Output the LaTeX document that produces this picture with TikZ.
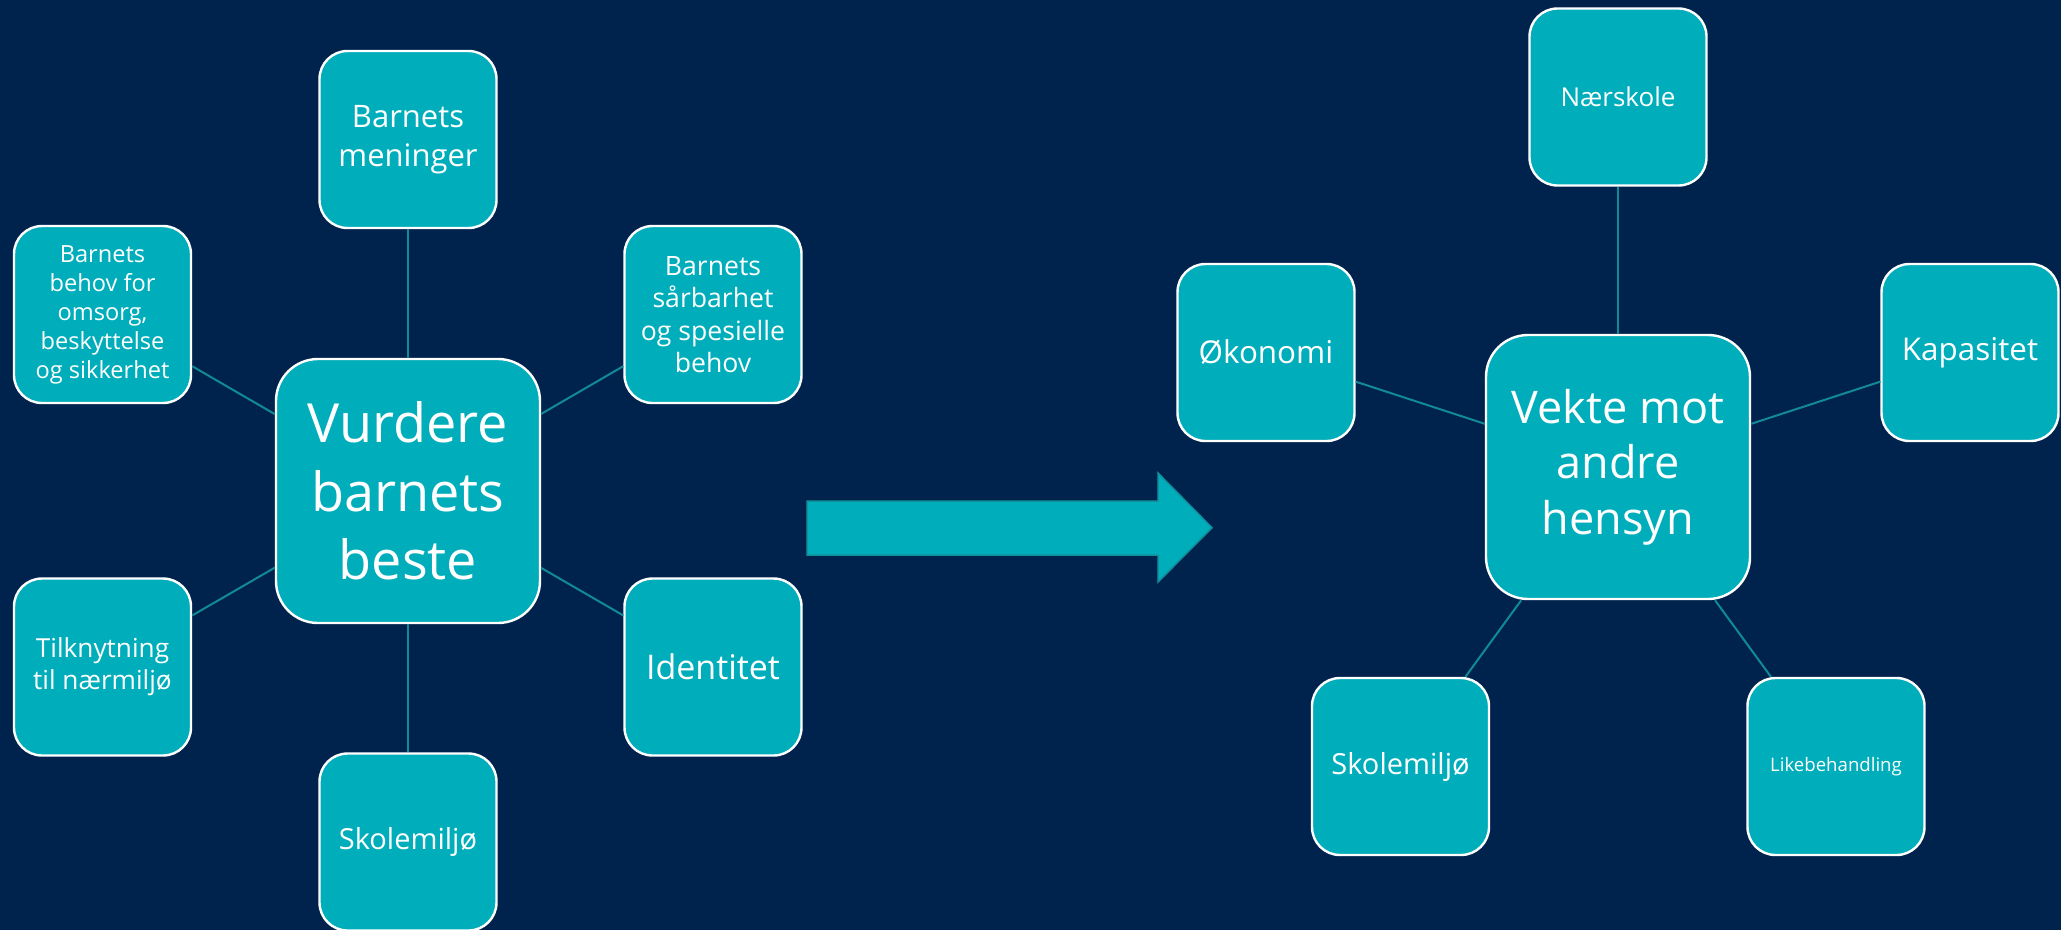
\documentclass[tikz,border=0pt]{standalone}
\usepackage{fontspec}
\setmainfont{Open Sans}
\definecolor{bgnavy}{RGB}{0,35,78}
\definecolor{boxteal}{RGB}{0,173,187}
\definecolor{linkteal}{RGB}{18,138,150}
\definecolor{arrowedge}{RGB}{16,145,156}
\tikzset{
  box/.style={draw=white, line width=2.4pt, fill=boxteal, text=white, align=center,
    rounded corners=28pt, minimum width=177pt, minimum height=177pt, inner sep=0pt},
  bigbox/.style={box, rounded corners=42pt, minimum width=264pt, minimum height=264pt},
  link/.style={draw=linkteal, line width=2pt},
}
\newcommand{\fs}[1]{\fontsize{#1}{#1*1.226}\selectfont}
\begin{document}
\begin{tikzpicture}[x=1pt,y=-1pt]
\fill[bgnavy] (0,0) rectangle (2061,930);
\useasboundingbox (0,0) rectangle (2061,930);

% left diagram
\node[bigbox, font=\fontsize{54}{68.5}\selectfont] (vb) at (408,491) {Vurdere\\barnets\\beste};
\node[box, font=\fontsize{31}{38.5}\selectfont] (bm) at (408,139.5) {Barnets\\meninger};
\node[box, font=\fontsize{23.6}{29}\selectfont] (bb) at (102.5,314.5) {Barnets\\behov for\\omsorg,\\beskyttelse\\og sikkerhet};
\node[box, font=\fontsize{26.6}{32.4}\selectfont] (bs) at (713,314.5) {Barnets\\sårbarhet\\og spesielle\\behov};
\node[box, font=\fontsize{26.2}{31.8}\selectfont] (tn) at (102.5,667) {Tilknytning\\til nærmiljø};
\node[box, font=\fontsize{34}{41}\selectfont] (id) at (713,667) {Identitet};
\node[box, font=\fontsize{29}{35}\selectfont] (sl) at (408,842) {Skolemiljø};

\draw[link] (vb) -- (bm);
\draw[link] (vb) -- (bb);
\draw[link] (vb) -- (bs);
\draw[link] (vb) -- (tn);
\draw[link] (vb) -- (id);
\draw[link] (vb) -- (sl);

% arrow
\draw[fill=boxteal, draw=arrowedge, line width=1.5pt, line join=miter]
  (807,501) -- (1158,501) -- (1158,473) -- (1212,527.7) -- (1158,582) -- (1158,555) -- (807,555) -- cycle;

% right diagram
\node[bigbox, font=\fontsize{45}{55.5}\selectfont] (vm) at (1618,467) {Vekte mot\\andre\\hensyn};
\node[box, font=\fontsize{26}{32}\selectfont] (nk) at (1618,97) {Nærskole};
\node[box, font=\fontsize{31.4}{38}\selectfont] (ok) at (1266,352.5) {Økonomi};
\node[box, font=\fontsize{31.4}{38}\selectfont] (kp) at (1970,352.5) {Kapasitet};
\node[box, font=\fontsize{29}{35}\selectfont] (sr) at (1400.5,766.5) {Skolemiljø};
\node[box, font=\fontsize{18.6}{23}\selectfont] (lb) at (1836,766.5) {Likebehandling};

\draw[link] (vm) -- (nk);
\draw[link] (vm) -- (ok);
\draw[link] (vm) -- (kp);
\draw[link] (vm) -- (sr);
\draw[link] (vm) -- (lb);
\end{tikzpicture}
\end{document}
